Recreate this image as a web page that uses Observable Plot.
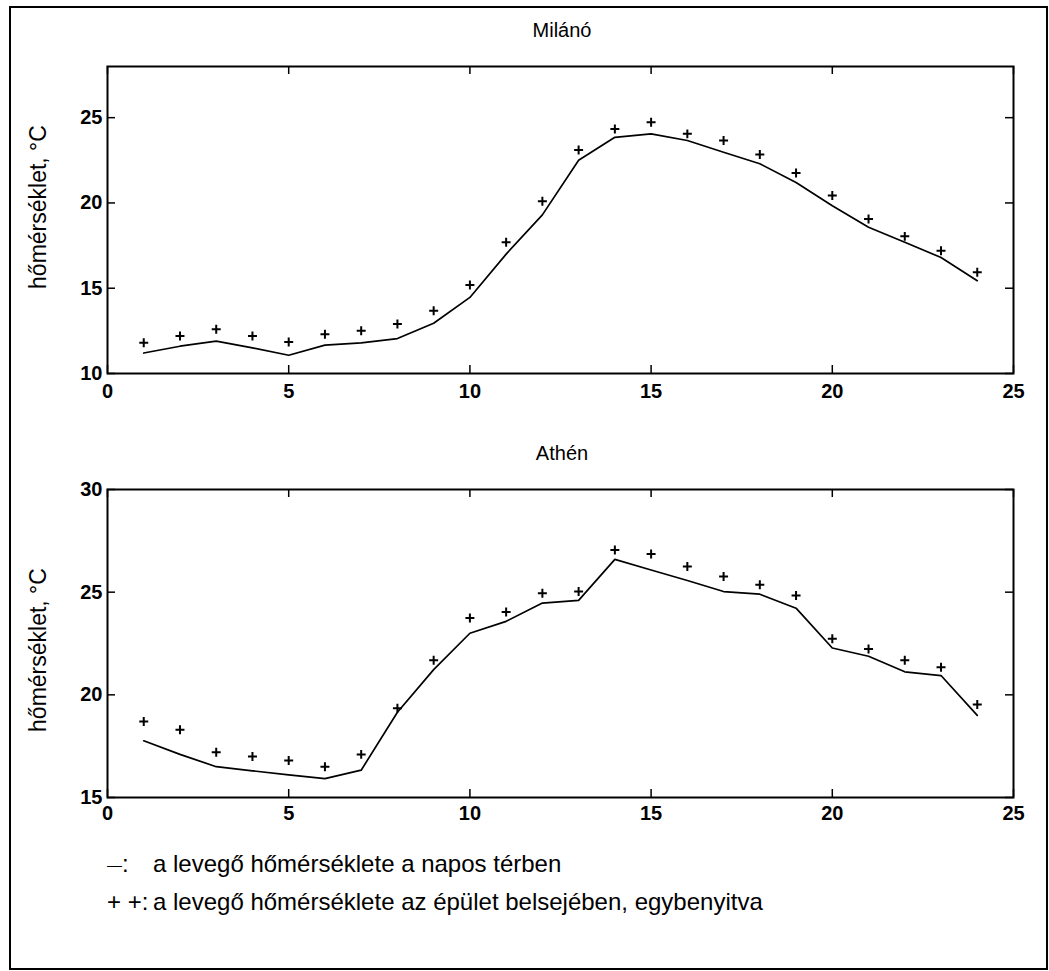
<!DOCTYPE html>
<html><head><meta charset="utf-8">
<script src="https://cdn.jsdelivr.net/npm/d3@7"></script>
<script src="https://cdn.jsdelivr.net/npm/@observablehq/plot@0.6"></script>
<style>
html,body{margin:0;padding:0;background:#fff;}
#wrap{position:relative;width:1049px;height:971px;overflow:hidden;font-family:"Liberation Sans",Arial,sans-serif;color:#000;background:#fff;}
#border{position:absolute;left:9px;top:6px;width:1035px;height:960px;border:2px solid #000;}
.title{position:absolute;font-size:20px;transform:translate(-50%,-50%);white-space:nowrap;}
.ylab{position:absolute;font-size:23px;transform:translate(-50%,-50%) rotate(-90deg);white-space:nowrap;}
.panel{position:absolute;left:0;}
#legend{position:absolute;left:107px;top:845px;font-size:24px;line-height:37px;white-space:nowrap;}
.key{display:inline-block;width:46px;}
</style></head>
<body>
<div id="wrap">
  <div id="border"></div>
</div>
<script>
// ---- data ----
const hours = [1,2,3,4,5,6,7,8,9,10,11,12,13,14,15,16,17,18,19,20,21,22,23,24];
const milanoOutdoor = [11.2,11.6,11.9,11.5,11.07,11.66,11.8,12.05,12.95,14.46,17.0,19.3,22.5,23.85,24.05,23.66,22.97,22.3,21.2,19.84,18.57,17.7,16.8,15.44];
const milanoIndoor  = [11.8,12.2,12.6,12.2,11.85,12.3,12.5,12.9,13.68,15.19,17.7,20.1,23.1,24.34,24.73,24.05,23.66,22.84,21.76,20.43,19.06,18.04,17.2,15.93];
const athenOutdoor  = [17.76,17.1,16.5,16.3,16.1,15.92,16.33,19.15,21.23,23.0,23.58,24.47,24.6,26.6,26.08,25.57,25.03,24.9,24.22,22.28,21.88,21.12,20.94,19.0];
const athenIndoor   = [18.7,18.3,17.2,17.0,16.8,16.5,17.1,19.35,21.68,23.74,24.03,24.95,25.03,27.05,26.86,26.25,25.76,25.36,24.84,22.73,22.23,21.68,21.34,19.53];
const xTicks = [0,5,10,15,20,25];
const milanoYTicks = [10,15,20,25];
const athenYTicks = [15,20,25,30];
const titles = ["Milánó","Athén"];
const yLabel = "hőmérséklet, °C";
const legendItems = [["—:", "a levegő hőmérséklete a napos térben"], ["+ +:", "a levegő hőmérséklete az épület belsejében, egybenyitva"]];

const W = 1049, ML = 107, MR = 36;
const wrap = document.getElementById("wrap");

function panel(outdoor, indoor, yDomain, yTicks, cfg) {
  const rows = hours.map((h, i) => ({h, out: outdoor[i], ind: indoor[i]}));
  const innerH = cfg.height - cfg.mt - cfg.mb;
  const innerW = W - ML - MR;
  const tk = 8;
  const svg = Plot.plot({
    width: W, height: cfg.height,
    marginLeft: ML, marginRight: MR, marginTop: cfg.mt, marginBottom: cfg.mb,
    style: {fontFamily: "'Liberation Sans', Arial, sans-serif", fontSize: "20px", fontWeight: "bold", background: "transparent", color: "#000"},
    x: {domain: [0, 25]},
    y: {domain: yDomain},
    marks: [
      Plot.tickX(xTicks, {x: d => d, insetTop: innerH - tk, stroke: "#000", strokeWidth: 1.5}),
      Plot.tickX(xTicks, {x: d => d, insetBottom: innerH - tk, stroke: "#000", strokeWidth: 1.5}),
      Plot.tickY(yTicks, {y: d => d, insetRight: innerW - tk, stroke: "#000", strokeWidth: 1.5}),
      Plot.tickY(yTicks, {y: d => d, insetLeft: innerW - tk, stroke: "#000", strokeWidth: 1.5}),
      Plot.frame({stroke: "#000", strokeWidth: 2}),
      Plot.axisX({ticks: xTicks, tickSize: 0, tickPadding: cfg.padX, label: null, fontSize: 20, fontWeight: "bold"}),
      Plot.axisY({ticks: yTicks, tickSize: 0, tickPadding: 5, label: null, fontSize: 20, fontWeight: "bold"}),
      Plot.line(rows, {x: "h", y: "out", stroke: "#000", strokeWidth: 1.7}),
      Plot.dot(rows, {x: "h", y: "ind", symbol: "plus", r: 3, stroke: "#000", strokeWidth: 2})
    ]
  });
  svg.classList.add("panel");
  svg.style.top = cfg.top + "px";
  wrap.appendChild(svg);
}

panel(milanoOutdoor, milanoIndoor, [10, 28], milanoYTicks, {top: 0, height: 420, mt: 66, mb: 47, padX: 10});
panel(athenOutdoor, athenIndoor, [15, 30], athenYTicks, {top: 420, height: 420, mt: 69, mb: 43, padX: 8});

function addDiv(cls, text, x, y) {
  const d = document.createElement("div");
  d.className = cls; d.textContent = text;
  d.style.left = x + "px"; d.style.top = y + "px";
  wrap.appendChild(d);
}
addDiv("title", titles[0], 562, 30);
addDiv("title", titles[1], 562, 453);
addDiv("ylab", yLabel, 38, 207);
addDiv("ylab", yLabel, 38, 650);

const leg = document.createElement("div");
leg.id = "legend";
legendItems.forEach(([k, t]) => {
  const line = document.createElement("div");
  const key = document.createElement("span");
  key.className = "key"; key.textContent = k;
  if (k.startsWith("—")) { key.innerHTML = '<span style="font-size:15px;vertical-align:0.15em">—</span>:'; }
  line.appendChild(key);
  line.appendChild(document.createTextNode(t));
  leg.appendChild(line);
});
wrap.appendChild(leg);
</script>
</body></html>
